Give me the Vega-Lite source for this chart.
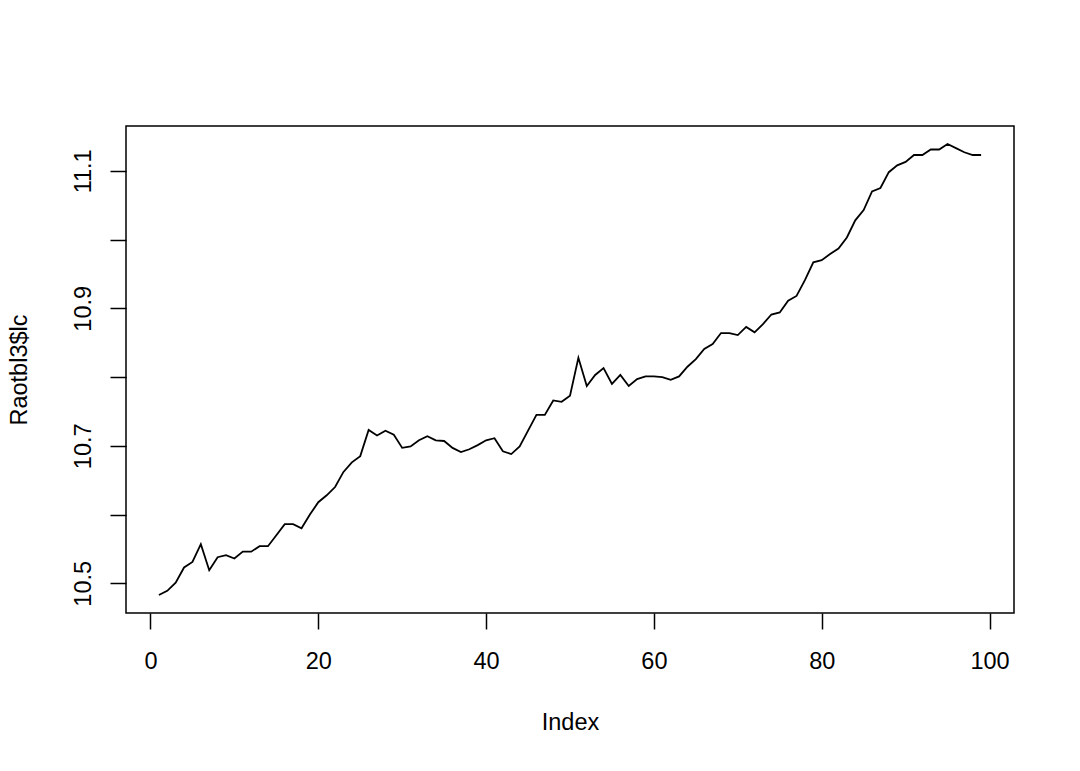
{
  "$schema": "https://vega.github.io/schema/vega-lite/v6.json",
  "width": 888,
  "height": 487,
  "autosize": "none",
  "padding": {"left": 126, "top": 126, "right": 66, "bottom": 158},
  "background": "white",
  "config": {
    "font": "Liberation Sans",
    "view": {"stroke": "black", "strokeWidth": 1.5},
    "axis": {"grid": false}
  },
  "data": {
    "values": [
      {"i": 1, "v": 10.483}, {"i": 2, "v": 10.489}, {"i": 3, "v": 10.501}, {"i": 4, "v": 10.523}, {"i": 5, "v": 10.531},
      {"i": 6, "v": 10.557}, {"i": 7, "v": 10.519}, {"i": 8, "v": 10.538}, {"i": 9, "v": 10.541}, {"i": 10, "v": 10.536},
      {"i": 11, "v": 10.546}, {"i": 12, "v": 10.546}, {"i": 13, "v": 10.554}, {"i": 14, "v": 10.554}, {"i": 15, "v": 10.570},
      {"i": 16, "v": 10.586}, {"i": 17, "v": 10.586}, {"i": 18, "v": 10.580}, {"i": 19, "v": 10.600}, {"i": 20, "v": 10.618},
      {"i": 21, "v": 10.628}, {"i": 22, "v": 10.640}, {"i": 23, "v": 10.662}, {"i": 24, "v": 10.676}, {"i": 25, "v": 10.685},
      {"i": 26, "v": 10.723}, {"i": 27, "v": 10.715}, {"i": 28, "v": 10.722}, {"i": 29, "v": 10.716}, {"i": 30, "v": 10.697},
      {"i": 31, "v": 10.699}, {"i": 32, "v": 10.708}, {"i": 33, "v": 10.714}, {"i": 34, "v": 10.708}, {"i": 35, "v": 10.707},
      {"i": 36, "v": 10.697}, {"i": 37, "v": 10.691}, {"i": 38, "v": 10.695}, {"i": 39, "v": 10.701}, {"i": 40, "v": 10.708},
      {"i": 41, "v": 10.711}, {"i": 42, "v": 10.692}, {"i": 43, "v": 10.688}, {"i": 44, "v": 10.699}, {"i": 45, "v": 10.722},
      {"i": 46, "v": 10.745}, {"i": 47, "v": 10.745}, {"i": 48, "v": 10.766}, {"i": 49, "v": 10.764}, {"i": 50, "v": 10.773},
      {"i": 51, "v": 10.828}, {"i": 52, "v": 10.787}, {"i": 53, "v": 10.803}, {"i": 54, "v": 10.813}, {"i": 55, "v": 10.790},
      {"i": 56, "v": 10.803}, {"i": 57, "v": 10.787}, {"i": 58, "v": 10.797}, {"i": 59, "v": 10.801}, {"i": 60, "v": 10.801},
      {"i": 61, "v": 10.800}, {"i": 62, "v": 10.796}, {"i": 63, "v": 10.801}, {"i": 64, "v": 10.815}, {"i": 65, "v": 10.826},
      {"i": 66, "v": 10.841}, {"i": 67, "v": 10.848}, {"i": 68, "v": 10.864}, {"i": 69, "v": 10.864}, {"i": 70, "v": 10.861},
      {"i": 71, "v": 10.873}, {"i": 72, "v": 10.865}, {"i": 73, "v": 10.877}, {"i": 74, "v": 10.891}, {"i": 75, "v": 10.894},
      {"i": 76, "v": 10.911}, {"i": 77, "v": 10.918}, {"i": 78, "v": 10.941}, {"i": 79, "v": 10.967}, {"i": 80, "v": 10.970},
      {"i": 81, "v": 10.979}, {"i": 82, "v": 10.987}, {"i": 83, "v": 11.003}, {"i": 84, "v": 11.028}, {"i": 85, "v": 11.043},
      {"i": 86, "v": 11.070}, {"i": 87, "v": 11.075}, {"i": 88, "v": 11.098}, {"i": 89, "v": 11.108}, {"i": 90, "v": 11.113},
      {"i": 91, "v": 11.123}, {"i": 92, "v": 11.123}, {"i": 93, "v": 11.131}, {"i": 94, "v": 11.131}, {"i": 95, "v": 11.139},
      {"i": 96, "v": 11.133}, {"i": 97, "v": 11.127}, {"i": 98, "v": 11.123}, {"i": 99, "v": 11.123}
    ]
  },
  "mark": {"type": "line", "color": "black", "strokeWidth": 1.8},
  "encoding": {
    "x": {
      "field": "i",
      "type": "quantitative",
      "scale": {"domain": [-2.92, 102.92], "nice": false, "zero": false},
      "axis": {
        "title": "Index",
        "values": [0, 20, 40, 60, 80, 100],
        "domain": false,
        "tickSize": 16,
        "tickColor": "black",
        "tickWidth": 1.5,
        "labelFontSize": 23.5,
        "labelColor": "black",
        "labelPadding": 20,
        "labelFlush": false,
        "labelOverlap": false,
        "titleFontSize": 23.5,
        "titleFontWeight": "normal",
        "titleColor": "black",
        "titleY": 109,
        "titleBaseline": "middle"
      }
    },
    "y": {
      "field": "v",
      "type": "quantitative",
      "scale": {"domain": [10.4568, 11.1652], "nice": false, "zero": false},
      "axis": {
        "title": "Raotbl3$lc",
        "values": [10.5, 10.6, 10.7, 10.8, 10.9, 11.0, 11.1],
        "labelExpr": "indexof(['10.5','10.7','10.9','11.1'], format(datum.value,'.1f')) >= 0 ? format(datum.value,'.1f') : ''",
        "domain": false,
        "tickSize": 16,
        "tickColor": "black",
        "tickWidth": 1.5,
        "labelFontSize": 23.5,
        "labelColor": "black",
        "labelAngle": -90,
        "labelAlign": "center",
        "labelBaseline": "alphabetic",
        "labelPadding": 20,
        "labelFlush": false,
        "labelOverlap": false,
        "titleFontSize": 23.5,
        "titleFontWeight": "normal",
        "titleColor": "black",
        "titleX": -107,
        "titleBaseline": "middle",
        "titleAngle": -90
      }
    }
  }
}
